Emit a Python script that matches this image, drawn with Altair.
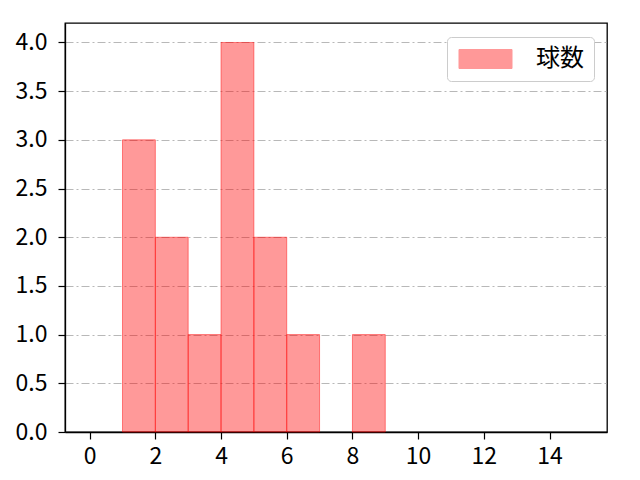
import altair as alt
import pandas as pd

bin_start = [1, 2, 3, 4, 5, 6, 8]
bin_end = [2, 3, 4, 5, 6, 7, 9]
counts = [3, 2, 1, 4, 2, 1, 1]
series = ["球数"] * len(counts)
x_ticks = [0, 2, 4, 6, 8, 10, 12, 14]
y_ticks = [0.0, 0.5, 1.0, 1.5, 2.0, 2.5, 3.0, 3.5, 4.0]

df = pd.DataFrame({"start": bin_start, "end": bin_end, "count": counts, "series": series,
                   "base": [0] * len(counts)})

FONT = "Noto Sans CJK JP"

chart = alt.Chart(df).mark_rect(
    fill="#ff0000", fillOpacity=0.4, stroke="#ff0000", strokeOpacity=0.45, strokeWidth=1
).encode(
    x=alt.X("start:Q", scale=alt.Scale(domain=[-0.75, 15.75], nice=False, zero=False),
            axis=alt.Axis(values=x_ticks, title=None, grid=False, format="d",
                          labelFont=FONT, labelFontSize=23, labelPadding=6)),
    x2="end:Q",
    y=alt.Y("count:Q", scale=alt.Scale(domain=[0, 4.2], nice=False),
            axis=alt.Axis(values=y_ticks, title=None, format=".1f", grid=True,
                          gridColor="#b0b0b0", gridDash=[8, 3, 2, 3], gridWidth=0.9,
                          labelFont=FONT, labelFontSize=23, labelPadding=11)),
    y2="base:Q",
    color=alt.Color("series:N", scale=alt.Scale(range=["#ff0000"]),
                    legend=alt.Legend(title=None, orient="none", legendX=382, legendY=14,
                                      symbolType="M-1,-0.95L4.3,-0.95L4.3,0.95L-1,0.95Z",
                                      symbolSize=400, symbolOpacity=0.4,
                                      symbolStrokeColor="#ff0000", symbolStrokeWidth=1,
                                      labelFontSize=24, labelFont=FONT, labelColor="black",
                                      labelOffset=55, padding=10,
                                      fillColor="white", strokeColor="#cccccc",
                                      cornerRadius=4)),
).properties(
    width=542, height=409,
    autosize=alt.AutoSizeParams(type="none"),
    padding={"left": 57, "top": 15, "right": 25, "bottom": 40},
).configure_view(
    stroke="black", strokeWidth=1.3
).configure_axis(
    domainColor="black", domainWidth=1.3, tickColor="black", tickSize=7, tickWidth=1.2,
    labelColor="black"
)

chart.save("out.html", embed_options={"renderer": "svg", "actions": False})
